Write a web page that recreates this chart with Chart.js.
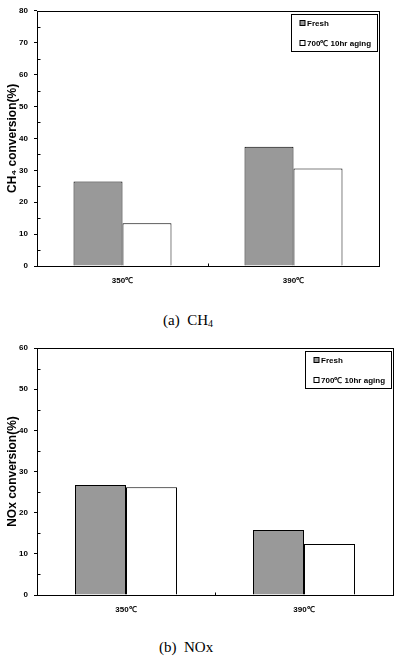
<!DOCTYPE html>
<html>
<head>
<meta charset="utf-8">
<script src="https://cdn.jsdelivr.net/npm/chart.js@4.4.1/dist/chart.umd.min.js"></script>
<style>
  body { margin: 0; background: #fff; width: 401px; height: 660px; position: relative; overflow: hidden; }
  .box { position: absolute; left: 0; width: 401px; height: 300px; }
  .caption { position: absolute; font-family: "Liberation Serif", "Times New Roman", serif; font-size: 15px; line-height: 18px; white-space: pre; color: #000; }
  .caption sub { font-size: 10px; vertical-align: -2px; line-height: 0; }
</style>
</head>
<body>
<div class="box" style="top:0"><canvas id="ch4Chart" width="401" height="300"></canvas></div>
<div class="caption" style="left:163px; top:311px">(a)  CH<sub>4</sub></div>
<div class="box" style="top:330px"><canvas id="noxChart" width="401" height="300"></canvas></div>
<div class="caption" style="left:159px; top:638px">(b)  NOx</div>

<script>
// data
const categories = ['350℃', '390℃'];
const seriesLabels = ['Fresh', '700℃ 10hr aging'];
const ch4Fresh = [26.5, 37.4];
const ch4Aged = [13.4, 30.6];
const noxFresh = [26.7, 15.8];
const noxAged = [26.2, 12.4];
const ch4TickValues = [0, 10, 20, 30, 40, 50, 60, 70, 80];
const noxTickValues = [0, 10, 20, 30, 40, 50, 60];

const FONT = '"Liberation Sans", Arial, sans-serif';

// box around plot, inward minor ticks, middle x tick and the boxed legend
const framePlugin = {
  id: 'frame',
  afterDraw(chart) {
    const ctx = chart.ctx;
    const a = chart.chartArea;
    const xs = chart.scales.x;
    const ys = chart.scales.y;
    const L = Math.round(a.left) + 0.5, R = Math.round(a.right) + 0.5;
    const T = Math.round(a.top) + 0.5, B = Math.round(a.bottom) + 0.5;

    ctx.save();
    ctx.strokeStyle = '#000';
    ctx.lineWidth = 1;
    ctx.strokeRect(L, T, R - L, B - T);

    // minor ticks halfway between labelled ticks, pointing into the plot
    const ticks = ys.ticks;
    ctx.beginPath();
    for (let i = 0; i < ticks.length - 1; i++) {
      const v = (ticks[i].value + ticks[i + 1].value) / 2;
      const py = Math.round(ys.getPixelForValue(v)) + 0.5;
      ctx.moveTo(L, py);
      ctx.lineTo(L + 3, py);
    }
    // tick between the two categories
    const mid = Math.round((xs.getPixelForValue(0) + xs.getPixelForValue(1)) / 2) + 0.5;
    ctx.moveTo(mid, B);
    ctx.lineTo(mid, B - 3);
    ctx.stroke();

    // legend
    ctx.font = 'bold 8px ' + FONT;
    const ds = chart.data.datasets;
    const textW = Math.max(...ds.map(d => ctx.measureText(d.label).width));
    const w = Math.round(16 + textW + 6);
    const h = 37;
    const bx = Math.round(a.right - 2 - w) + 0.5;
    const by = Math.round(a.top + 3) + 0.5;
    ctx.fillStyle = '#fff';
    ctx.fillRect(bx, by, w, h);
    ctx.strokeRect(bx, by, w, h);
    ctx.textBaseline = 'middle';
    ds.forEach((d, i) => {
      const cy = Math.round(by + 8 + i * 20.5);
      ctx.fillStyle = d.backgroundColor;
      ctx.fillRect(bx + 8.5, cy - 2.5, 5, 5);
      ctx.strokeRect(bx + 8.5, cy - 2.5, 5, 5);
      ctx.fillStyle = '#000';
      ctx.fillText(d.label, bx + 15.5, cy + 0.5);
    });
    ctx.restore();
  }
};

function makeChart(id, fresh, aged, yTitle, tickValues, pad, xHeight) {
  const ctx = document.getElementById(id).getContext('2d');
  return new Chart(ctx, {
    type: 'bar',
    data: {
      labels: categories,
      datasets: [
        {
          label: seriesLabels[0],
          data: fresh,
          backgroundColor: '#999999',
          borderColor: '#000',
          borderWidth: 1
        },
        {
          label: seriesLabels[1],
          data: aged,
          backgroundColor: '#ffffff',
          borderColor: '#000',
          borderWidth: 1
        }
      ]
    },
    options: {
      responsive: false,
      animation: false,
      layout: { padding: pad },
      categoryPercentage: 0.573,
      barPercentage: 1,
      plugins: {
        legend: { display: false },
        tooltip: { enabled: false }
      },
      scales: {
        x: {
          grid: { display: false, drawTicks: false },
          border: { display: false },
          ticks: { color: '#000', padding: 10, font: { family: FONT, size: 8, weight: 'bold' } },
          afterFit: s => { s.height = xHeight; }
        },
        y: {
          min: tickValues[0],
          max: tickValues[tickValues.length - 1],
          afterBuildTicks: s => { s.ticks = tickValues.map(v => ({ value: v })); },
          grid: { drawOnChartArea: false, drawTicks: true, tickLength: 3, color: '#000' },
          border: { display: false },
          ticks: { color: '#000', padding: 6, font: { family: FONT, size: 8, weight: 'bold' } },
          title: {
            display: true,
            text: yTitle,
            color: '#000',
            padding: { top: 5, bottom: 0 },
            font: { family: FONT, size: 12, weight: 'bold' }
          },
          afterFit: s => { s.width = 37; }
        }
      }
    },
    plugins: [framePlugin]
  });
}

makeChart('ch4Chart', ch4Fresh, ch4Aged, 'CH₄ conversion(%)', ch4TickValues,
  { left: 0, top: 8, right: 22, bottom: 0 }, 34);
makeChart('noxChart', noxFresh, noxAged, 'NOx conversion(%)', noxTickValues,
  { left: 0, top: 18, right: 8, bottom: 0 }, 35);
</script>
</body>
</html>
